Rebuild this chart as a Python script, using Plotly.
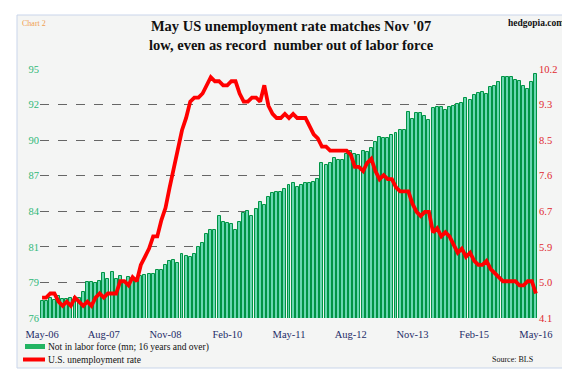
import plotly.graph_objects as go

# ---- data ----
months = [f"{m}-{y:02d}" for y in range(6, 17) for m in
          ["Jan", "Feb", "Mar", "Apr", "May", "Jun", "Jul", "Aug", "Sep", "Oct", "Nov", "Dec"]]
months = months[4:4 + 121]  # May-06 .. May-16

not_in_lf = [
    77.33, 77.30, 77.51, 77.40, 77.66, 77.45, 77.42, 77.50, 77.60, 77.50,
    77.97, 78.76, 78.76, 78.66, 78.84, 79.40, 79.00, 79.48, 78.97, 79.17,
    78.84, 79.10, 79.08, 79.00, 79.20, 79.28, 79.35, 79.35, 79.69, 79.64,
    80.07, 80.38, 80.43, 80.20, 80.89, 80.71, 80.63, 80.89, 81.40, 81.70,
    82.42, 82.68, 82.75, 83.77, 83.30, 83.24, 83.19, 82.68, 83.30, 84.03,
    84.13, 83.80, 84.28, 84.85, 84.60, 85.23, 85.56, 85.61, 85.61, 85.87,
    86.13, 86.30, 86.00, 86.13, 86.33, 86.33, 86.35, 86.59, 87.86, 87.71,
    87.81, 88.22, 88.09, 88.04, 88.55, 88.73, 88.48, 88.43, 88.76, 88.68,
    88.99, 89.45, 89.81, 89.76, 89.76, 89.96, 90.09, 90.37, 90.37, 91.70,
    91.16, 91.62, 91.62, 91.44, 91.11, 92.06, 92.08, 92.13, 91.88, 92.13,
    92.19, 92.31, 92.41, 92.82, 92.67, 92.98, 93.18, 93.28, 93.08, 93.59,
    93.74, 94.00, 94.36, 94.38, 94.38, 94.18, 94.05, 93.67, 93.49, 93.98,
    94.62,
]

unemp_rate = [
    4.6, 4.6, 4.7, 4.7, 4.5, 4.4, 4.5, 4.4,
    4.6, 4.5, 4.4, 4.5, 4.4, 4.6, 4.7, 4.6, 4.7, 4.7, 4.7, 5.0,
    5.0, 4.9, 5.1, 5.0, 5.4, 5.6, 5.8, 6.1, 6.1, 6.5, 6.8, 7.3,
    7.8, 8.3, 8.7, 9.0, 9.4, 9.5, 9.5, 9.6, 9.8, 10.0, 9.9, 9.9,
    9.8, 9.8, 9.9, 9.9, 9.6, 9.4, 9.4, 9.5, 9.5, 9.4, 9.8, 9.3,
    9.1, 9.0, 9.0, 9.1, 9.0, 9.1, 9.0, 9.0, 9.0, 8.8, 8.6, 8.5,
    8.3, 8.3, 8.2, 8.2, 8.2, 8.2, 8.2, 8.1, 7.8, 7.8, 7.7, 7.9,
    8.0, 7.7, 7.5, 7.6, 7.5, 7.5, 7.3, 7.2, 7.2, 7.2, 6.9, 6.7,
    6.6, 6.7, 6.7, 6.2, 6.3, 6.1, 6.2, 6.1, 5.9, 5.7, 5.8, 5.6,
    5.7, 5.5, 5.4, 5.4, 5.5, 5.3, 5.2, 5.1, 5.0, 5.0, 5.0, 5.0,
    4.9, 4.9, 5.0, 5.0, 4.7,
]

x_tick_labels = ["May-06", "Aug-07", "Nov-08", "Feb-10", "May-11",
                 "Aug-12", "Nov-13", "Feb-15", "May-16"]
left_tick_labels = ["76", "79", "81", "84", "87", "90", "92", "95"]
right_tick_labels = ["4.1", "5.0", "5.9", "6.7", "7.6", "8.5", "9.3", "10.2"]

L_MIN, L_MAX = 76.0, 95.0
R_MIN, R_MAX = 4.1, 10.2

idx = list(range(len(months)))
left_vals = [L_MIN + (L_MAX - L_MIN) / 7 * k for k in range(8)]
right_vals = [R_MIN + (R_MAX - R_MIN) / 7 * k for k in range(8)]
x_tick_vals = [months.index(lbl) for lbl in x_tick_labels]

SERIF = "Liberation Serif"
W, H = 570, 370
PL, PR, PT, PB = 32, 530, 61, 310


def xp(px):
    return (px - PL) / (PR - PL)


def yp(py):
    return (PB - py) / (PB - PT)


fig = go.Figure()
fig.add_trace(go.Bar(
    x=idx, y=not_in_lf, width=0.72,
    marker=dict(color="#6ad6b2", line=dict(color="#009444", width=1)),
    name="Not in labor force (mn; 16 years and over)",
    yaxis="y",
))
fig.add_trace(go.Scatter(
    x=idx, y=unemp_rate, mode="lines",
    line=dict(color="#ff0000", width=3.8),
    name="U.S. unemployment rate", yaxis="y2",
))

fig.update_layout(
    width=W, height=H,
    margin=dict(l=PL, r=W - PR, t=PT, b=H - PB),
    paper_bgcolor="white",
    plot_bgcolor="#fdfdf4",
    showlegend=False,
    bargap=0,
    xaxis=dict(
        range=[-0.5, len(months) - 0.5],
        tickvals=x_tick_vals, ticktext=x_tick_labels,
        showgrid=False, zeroline=False,
        ticks="outside", ticklen=6, tickcolor="rgba(0,0,0,0)",
        tickfont=dict(family=SERIF, size=10.5, color="#1e2c68"),
    ),
    yaxis=dict(
        range=[L_MIN, L_MAX], tickvals=left_vals, ticktext=left_tick_labels,
        showgrid=True, gridcolor="#666666", griddash="dash", gridwidth=1,
        zeroline=False, ticks="",
        tickfont=dict(family=SERIF, size=10.5, color="#2fb878"),
    ),
    yaxis2=dict(
        range=[R_MIN, R_MAX], tickvals=right_vals, ticktext=right_tick_labels,
        overlaying="y", side="right", showgrid=False, zeroline=False, ticks="",
        tickfont=dict(family=SERIF, size=10.5, color="#e0282e"),
    ),
)

shapes = [
    dict(type="rect", xref="paper", yref="paper", layer="below",
         x0=xp(9), x1=xp(561), y0=yp(7), y1=yp(360),
         fillcolor="#f4f5f4", line=dict(color="#c9d5ea", width=1)),
    dict(type="rect", xref="paper", yref="paper",
         x0=xp(17), x1=xp(37), y0=yp(341), y1=yp(336),
         fillcolor="#22b462", line=dict(width=0)),
    dict(type="line", xref="paper", yref="paper",
         x0=xp(15), x1=xp(37), y0=yp(351.5), y1=yp(351.5),
         line=dict(color="#ff0000", width=4)),
]

annotations = [
    dict(text="<b>May US unemployment rate matches Nov '07<br>low, even as record  number out of labor force</b>",
         x=xp(283), y=yp(8), xref="paper", yref="paper", xanchor="center", yanchor="top",
         showarrow=False, align="center",
         font=dict(family=SERIF, size=14.5, color="#111111")),
    dict(text="Chart 2", x=xp(12), y=yp(16), xref="paper", yref="paper",
         xanchor="left", yanchor="middle", showarrow=False,
         font=dict(family=SERIF, size=8, color="#f0a050")),
    dict(text="<b>hedgopia.com</b>", x=xp(558), y=yp(15), xref="paper", yref="paper",
         xanchor="right", yanchor="middle", showarrow=False,
         font=dict(family=SERIF, size=9.5, color="#111111")),
    dict(text="Not in labor force (mn; 16 years and over)", x=xp(38), y=yp(339),
         xref="paper", yref="paper", xanchor="left", yanchor="middle", showarrow=False,
         font=dict(family=SERIF, size=9.5, color="#111111")),
    dict(text="U.S. unemployment rate", x=xp(38), y=yp(352),
         xref="paper", yref="paper", xanchor="left", yanchor="middle", showarrow=False,
         font=dict(family=SERIF, size=9.5, color="#111111")),
    dict(text="Source: BLS", x=xp(527), y=yp(352),
         xref="paper", yref="paper", xanchor="right", yanchor="middle", showarrow=False,
         font=dict(family=SERIF, size=8, color="#111111")),
]
fig.update_layout(shapes=shapes, annotations=annotations)

fig.write_html("out.html")
